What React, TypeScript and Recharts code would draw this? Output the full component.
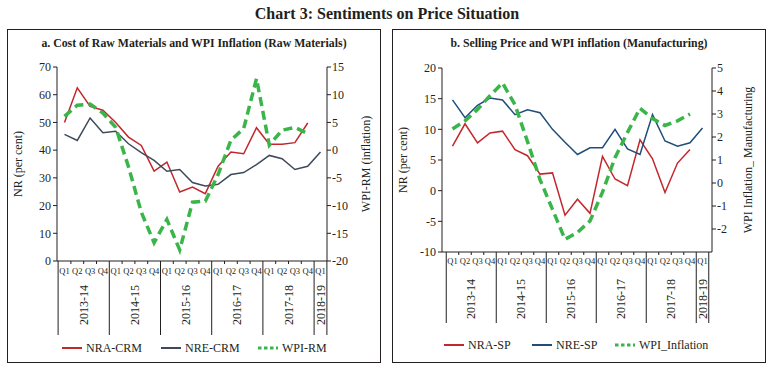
import { ComposedChart, Line, XAxis, YAxis } from "recharts"

// categories
const quarters = ["Q1", "Q2", "Q3", "Q4", "Q1", "Q2", "Q3", "Q4", "Q1", "Q2", "Q3", "Q4", "Q1", "Q2", "Q3", "Q4", "Q1", "Q2", "Q3", "Q4", "Q1"]
const years = [
  "2013-14", "2013-14", "2013-14", "2013-14",
  "2014-15", "2014-15", "2014-15", "2014-15",
  "2015-16", "2015-16", "2015-16", "2015-16",
  "2016-17", "2016-17", "2016-17", "2016-17",
  "2017-18", "2017-18", "2017-18", "2017-18",
  "2018-19",
]

// a. cost of raw materials
const nraCrm = [50, 62.5, 55.8, 54.4, 50, 44.7, 41.7, 32.4, 35.7, 24.9, 26.7, 24.3, 34.2, 39.3, 38.7, 48.1, 42.1, 42.1, 42.7, 49.8, null]
const nreCrm = [45.7, 43.5, 51.6, 46.3, 46.8, 42.3, 39.1, 36.3, 32.4, 33, 28.3, 27.1, 27.7, 31.2, 31.9, 34.8, 38.1, 36.9, 33, 34.2, 39.3]
const wpiRm = [6.1, 8.1, 8.3, 6.7, 4.1, -3, -11.2, -16.7, -12.5, -18, -9.4, -9.2, -4.4, 1.8, 3.9, 12.9, 0.9, 3.6, 4.1, 3, null]

// b. selling price
const nraSp = [7.25, 10.9, 7.8, 9.4, 9.7, 6.7, 5.7, 2.7, 2.9, -4, -1.4, -3.7, 5.6, 1.9, 0.8, 8.3, 5.2, -0.3, 4.5, 6.7, null]
const nreSp = [14.8, 11.9, 13.9, 15.1, 14.8, 12.4, 13.2, 12.7, 10, 7.9, 5.9, 7, 7, 10, 6.8, 5.9, 12.4, 8.1, 7.25, 7.8, 10.2]
const wpiMfg = [2.35, 2.7, 3.2, 3.8, 4.35, 3.4, 1.8, 0.15, -1.15, -2.45, -2.15, -1.65, -0.4, 1.1, 2.2, 3.25, 2.8, 2.5, 2.7, 3, null]

// tick labels
const crmTicks = [0, 10, 20, 30, 40, 50, 60, 70]
const wpiRmTicks = [-20, -15, -10, -5, 0, 5, 10, 15]
const spTicks = [-10, -5, 0, 5, 10, 15, 20]
const wpiMfgTicks = [-2, -1, 0, 1, 2, 3, 4, 5]

const RED = "#c1272d"
const SLATE = "#3e4a5a"
const NAVY = "#1f4e79"
const GREEN = "#3ab54a"
const INK = "#231f20"
const FONT = '"Liberation Serif", "DejaVu Serif", serif'

const crmData = quarters.map((q, i) => ({ q, nra: nraCrm[i], nre: nreCrm[i], wpi: wpiRm[i] }))
const spData = quarters.map((q, i) => ({ q, nra: nraSp[i], nre: nreSp[i], wpi: wpiMfg[i] }))

function QuarterTick(props: any) {
  const { x, y, payload, step, sepDepth, yearDy, qDy } = props
  const i = props.index ?? payload.index
  const left = x - step / 2
  const first = i === 0 || years[i] !== years[i - 1]
  let span = 0
  if (first) while (years[i + span] === years[i]) span++
  return (
    <g>
      <text x={x} y={y + qDy} textAnchor="middle" fontSize={8.5} fontFamily={FONT} fill={INK}>
        {quarters[i]}
      </text>
      <line x1={left} x2={left} y1={y} y2={y + (first ? sepDepth : 3)} stroke={INK} />
      {i === quarters.length - 1 && (
        <line x1={x + step / 2} x2={x + step / 2} y1={y} y2={y + sepDepth} stroke={INK} />
      )}
      {first && (
        <text
          transform={`translate(${left + (span * step) / 2},${y + yearDy}) rotate(-90)`}
          textAnchor="middle"
          dominantBaseline="central"
          fontSize={12}
          fontFamily={FONT}
          fill={INK}
        >
          {years[i]}
        </text>
      )}
    </g>
  )
}

interface LegendItem {
  name: string
  color: string
  dashed?: boolean
  left: number
}

function Panel(props: {
  left: number
  title: string
  data: any[]
  lDomain: number[]
  lTicks: number[]
  rDomain: number[]
  rTicks: number[]
  lLabel: string
  rLabel: string
  rLabelOffset: number
  blue: string
  marginTop: number
  marginBottom: number
  padL: number
  padR: number
  sepDepth: number
  yearDy: number
  qDy: number
  legend: LegendItem[]
  legendTop: number
}) {
  const W = 374
  const H = 334
  const plotW = W - 50 - 54
  const step = (plotW - props.padL - props.padR) / (quarters.length - 1)
  const tickStyle = { fontSize: 12, fill: INK, fontFamily: FONT }
  return (
    <div style={{ position: "absolute", left: props.left, top: 29, width: W, height: H }}>
      <div style={{ position: "absolute", inset: 0, border: `1px solid ${INK}`, boxSizing: "border-box" }} />
      <div
        style={{
          position: "absolute",
          top: 7,
          left: 0,
          width: W,
          textAlign: "center",
          fontWeight: "bold",
          fontSize: 11.8,
          color: INK,
        }}
      >
        {props.title}
      </div>
      <div style={{ position: "absolute", left: 0, top: 0 }}>
        <ComposedChart
          width={W}
          height={H}
          data={props.data}
          margin={{ top: props.marginTop, right: 0, bottom: props.marginBottom, left: 0 }}
        >
          <XAxis
            dataKey="q"
            interval={0}
            height={80}
            tickSize={0}
            tickMargin={0}
            padding={{ left: props.padL, right: props.padR }}
            axisLine={{ stroke: INK }}
            tickLine={false}
            tick={<QuarterTick step={step} sepDepth={props.sepDepth} yearDy={props.yearDy} qDy={props.qDy} />}
          />
          <YAxis
            yAxisId="l"
            width={50}
            domain={props.lDomain}
            ticks={props.lTicks}
            interval={0}
            tickSize={4}
            tickMargin={2}
            axisLine={{ stroke: INK }}
            tickLine={{ stroke: INK }}
            tick={tickStyle}
            label={{
              value: props.lLabel,
              angle: -90,
              position: "insideLeft",
              offset: 11,
              fontSize: 12,
              fontFamily: FONT,
              fill: INK,
              style: { textAnchor: "middle" },
            }}
          />
          <YAxis
            yAxisId="r"
            orientation="right"
            width={54}
            domain={props.rDomain}
            ticks={props.rTicks}
            interval={0}
            tickSize={4}
            tickMargin={1}
            axisLine={{ stroke: INK }}
            tickLine={{ stroke: INK }}
            tick={tickStyle}
            label={{
              value: props.rLabel,
              angle: -90,
              position: "insideRight",
              offset: props.rLabelOffset,
              fontSize: 12,
              fontFamily: FONT,
              fill: INK,
              style: { textAnchor: "middle" },
            }}
          />
          <Line yAxisId="l" dataKey="nra" stroke={RED} strokeWidth={1.5} dot={false} isAnimationActive={false} />
          <Line yAxisId="l" dataKey="nre" stroke={props.blue} strokeWidth={1.5} dot={false} isAnimationActive={false} />
          <Line
            yAxisId="r"
            dataKey="wpi"
            stroke={GREEN}
            strokeWidth={3.5}
            strokeDasharray="9 5"
            dot={false}
            isAnimationActive={false}
          />
        </ComposedChart>
      </div>
      {props.legend.map((item) => (
        <div
          key={item.name}
          style={{
            position: "absolute",
            left: item.left - props.left,
            top: props.legendTop - 29 - 8,
            height: 16,
            display: "flex",
            alignItems: "center",
            fontSize: 12,
            color: INK,
            whiteSpace: "nowrap",
          }}
        >
          <svg width={20} height={6} style={{ marginRight: 4 }}>
            <line
              x1={0}
              x2={20}
              y1={3}
              y2={3}
              stroke={item.color}
              strokeWidth={item.dashed ? 3 : 2}
              strokeDasharray={item.dashed ? "3.5 2.5" : undefined}
            />
          </svg>
          {item.name}
        </div>
      ))}
    </div>
  )
}

export default function App() {
  return (
    <div
      style={{
        position: "absolute",
        left: 0,
        top: 0,
        width: 774,
        height: 370,
        background: "#fff",
        fontFamily: FONT,
        color: INK,
      }}
    >
      <div
        style={{
          position: "absolute",
          top: 5,
          left: 0,
          width: 774,
          textAlign: "center",
          fontWeight: "bold",
          fontSize: 16,
        }}
      >
        Chart 3: Sentiments on Price Situation
      </div>
      <Panel
        left={7}
        title="a. Cost of Raw Materials and WPI Inflation (Raw Materials)"
        data={crmData}
        lDomain={[0, 70]}
        lTicks={crmTicks}
        rDomain={[-20, 15]}
        rTicks={wpiRmTicks}
        lLabel="NR (per cent)"
        rLabel="WPI-RM (inflation)"
        rLabelOffset={15}
        blue={SLATE}
        marginTop={38}
        marginBottom={22}
        padL={7.5}
        padR={6.5}
        sepDepth={74}
        yearDy={44}
        qDy={13}
        legendTop={348}
        legend={[
          { name: "NRA-CRM", color: RED, left: 62 },
          { name: "NRE-CRM", color: SLATE, left: 161 },
          { name: "WPI-RM", color: GREEN, dashed: true, left: 258 },
        ]}
      />
      <Panel
        left={392}
        title="b. Selling Price and WPI inflation (Manufacturing)"
        data={spData}
        lDomain={[-10, 20]}
        lTicks={spTicks}
        rDomain={[-3, 5]}
        rTicks={wpiMfgTicks}
        lLabel="NR (per cent)"
        rLabel="WPI Inflation_ Manufacturing"
        rLabelOffset={18}
        blue={NAVY}
        marginTop={39}
        marginBottom={31}
        padL={10.5}
        padR={9.5}
        sepDepth={71}
        yearDy={47}
        qDy={12}
        legendTop={345}
        legend={[
          { name: "NRA-SP", color: RED, left: 444 },
          { name: "NRE-SP", color: NAVY, left: 532 },
          { name: "WPI_Inflation", color: GREEN, dashed: true, left: 615 },
        ]}
      />
    </div>
  )
}
